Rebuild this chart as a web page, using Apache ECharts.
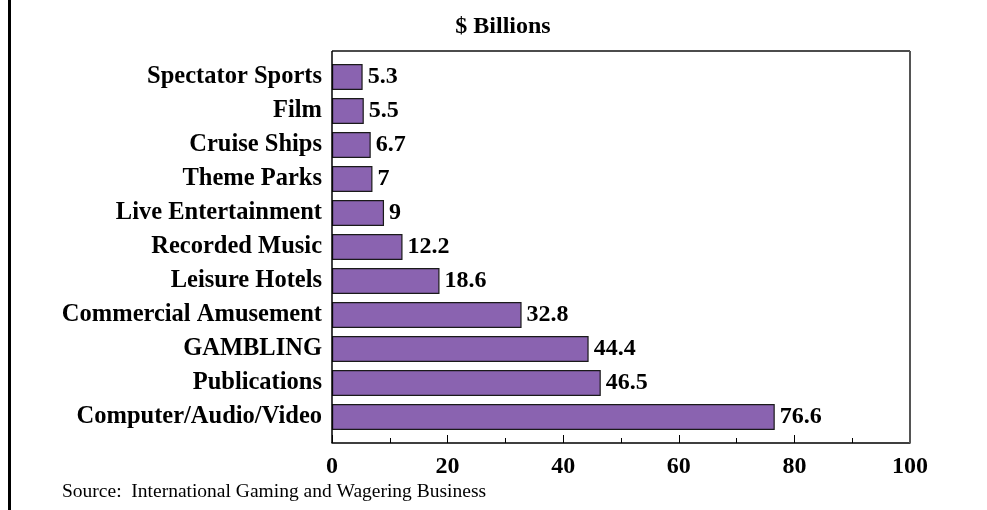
<!DOCTYPE html>
<html>
<head>
<meta charset="utf-8">
<script src="https://cdn.jsdelivr.net/npm/echarts@6/dist/echarts.min.js"></script>
<style>
  html, body { margin: 0; padding: 0; background: #fff; }
  #chart { width: 987px; height: 510px; }
</style>
</head>
<body>
<div id="chart"></div>
<script>
// Entertainment spending by segment, $ billions
const categories = [
  'Spectator Sports', 'Film', 'Cruise Ships', 'Theme Parks', 'Live Entertainment',
  'Recorded Music', 'Leisure Hotels', 'Commercial Amusement', 'GAMBLING',
  'Publications', 'Computer/Audio/Video'
];
const values = [5.3, 5.5, 6.7, 7, 9, 12.2, 18.6, 32.8, 44.4, 46.5, 76.6];
const xTicks = [0, 20, 40, 60, 80, 100];

const serif = '"Liberation Serif", "Times New Roman", serif';
const chart = echarts.init(document.getElementById('chart'), null, { renderer: 'canvas' });

// Plot frame sits a little outside the category band so bars have breathing room
const frame = { left: 332, top: 51, right: 910, bottom: 443 };

chart.setOption({
  animation: false,
  backgroundColor: '#fff',
  grid: {
    left: 332, right: 77, top: 60, bottom: 76,
    show: false, containLabel: false
  },
  graphic: [
    { type: 'rect', shape: { x: 8, y: 0, width: 3, height: 510 }, style: { fill: '#000' } },
    {
      type: 'line', z: 10,
      shape: { x1: frame.left, y1: frame.top, x2: frame.right, y2: frame.top },
      style: { stroke: '#111', lineWidth: 1.5 }
    },
    {
      type: 'line', z: 10,
      shape: { x1: frame.left, y1: frame.top, x2: frame.left, y2: frame.bottom },
      style: { stroke: '#000', lineWidth: 1.5 }
    },
    {
      type: 'line', z: 10,
      shape: { x1: frame.right, y1: frame.top, x2: frame.right, y2: frame.bottom },
      style: { stroke: '#555', lineWidth: 2 }
    },
    {
      type: 'text', x: 503, y: 27,
      style: {
        text: '$ Billions', font: 'bold 24px ' + serif, fill: '#000',
        align: 'center', verticalAlign: 'middle'
      }
    },
    {
      type: 'text', x: 62, y: 492,
      style: {
        text: 'Source:  International Gaming and Wagering Business', font: '19.5px ' + serif, fill: '#000',
        align: 'left', verticalAlign: 'middle'
      }
    }
  ],
  xAxis: {
    type: 'value',
    min: xTicks[0], max: xTicks[xTicks.length - 1], interval: 20,
    offset: 9,
    axisLine: { show: true, lineStyle: { color: '#000', width: 1.5 } },
    axisTick: { show: true, inside: true, length: 8, lineStyle: { color: '#000', width: 1 } },
    minorTick: { show: true, splitNumber: 2, length: 5, lineStyle: { color: '#000', width: 1 } },
    splitLine: { show: false },
    axisLabel: { color: '#000', fontFamily: serif, fontWeight: 'bold', fontSize: 24, margin: 12 }
  },
  yAxis: {
    type: 'category',
    data: categories,
    inverse: true,
    axisLine: { show: false },
    axisTick: { show: false },
    axisLabel: { color: '#000', fontFamily: serif, fontWeight: 'bold', fontSize: 24.5, margin: 10 }
  },
  series: [{
    type: 'bar',
    data: values,
    barCategoryGap: '24%',
    itemStyle: { color: '#8A63B0', borderColor: '#1a1a1a', borderWidth: 1.2 },
    label: {
      show: true, position: 'right', distance: 5,
      color: '#000', fontFamily: serif, fontWeight: 'bold', fontSize: 24
    }
  }]
});
</script>
</body>
</html>
